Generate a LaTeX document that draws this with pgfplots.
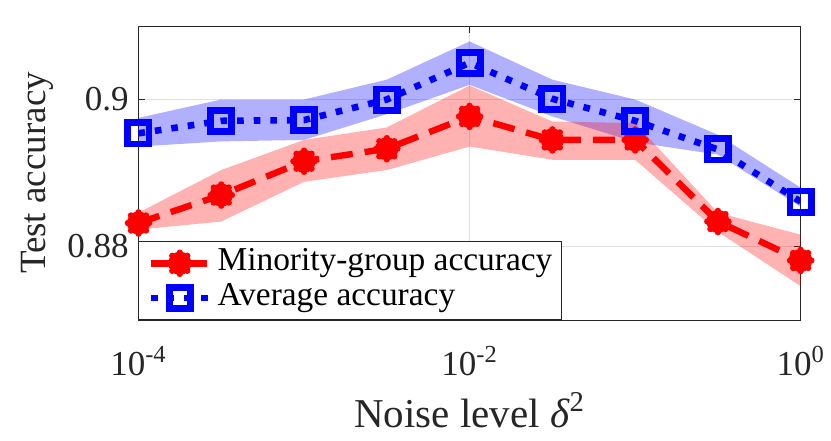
\documentclass[border=0pt]{standalone}
\usepackage{fontspec}
\setmainfont{Liberation Serif}
\usepackage{pgfplots}
\pgfplotsset{compat=1.18}

\pgfdeclareplotmark{mstar}{%
  \pgfpathcircle{\pgfpointorigin}{0.78\pgfplotmarksize}%
  \pgfpathmoveto{\pgfqpoint{-\pgfplotmarksize}{0pt}}\pgfpathlineto{\pgfqpoint{\pgfplotmarksize}{0pt}}%
  \pgfpathmoveto{\pgfqpoint{0pt}{-\pgfplotmarksize}}\pgfpathlineto{\pgfqpoint{0pt}{\pgfplotmarksize}}%
  \pgfpathmoveto{\pgfqpoint{-0.7071\pgfplotmarksize}{-0.7071\pgfplotmarksize}}\pgfpathlineto{\pgfqpoint{0.7071\pgfplotmarksize}{0.7071\pgfplotmarksize}}%
  \pgfpathmoveto{\pgfqpoint{-0.7071\pgfplotmarksize}{0.7071\pgfplotmarksize}}\pgfpathlineto{\pgfqpoint{0.7071\pgfplotmarksize}{-0.7071\pgfplotmarksize}}%
  \pgfusepathqfillstroke}

\definecolor{axgray}{HTML}{262626}

\begin{document}
\begin{tikzpicture}
\useasboundingbox (-69.25pt,-60pt) rectangle (346.25pt,160pt);
\begin{axis}[
  at={(0,0)}, anchor=south west,
  scale only axis, width=331.1pt, height=147pt,
  xmode=log, xmin=1e-4, xmax=1, ymin=0.87, ymax=0.91,
  xtick={1e-4,1e-2,1},
  xticklabels={10\textsuperscript{-4},10\textsuperscript{-2},10\textsuperscript{0}},
  ytick={0.88,0.9}, yticklabels={0.88,0.9},
  minor xtick={}, 
  grid=major,
  major grid style={draw=black!12, line width=0.5pt},
  axis line style={draw=axgray, line width=0.5pt},
  tick style={draw=axgray, line width=0.5pt},
  major tick length=3.5pt,
  tick align=inside,
  tick label style={font=\fontsize{17.5}{20}\selectfont, text=axgray},
  xticklabel style={anchor=base, yshift=-27.5pt},
  yticklabel style={xshift=-1.4pt},
  xlabel={Noise level \textit{δ}\textsuperscript{2}},
  ylabel={Test accuracy},
  xlabel style={font=\fontsize{20.5}{24}\selectfont, text=axgray, at={(axis description cs:0.5,-0.364)}, anchor=base},
  ylabel style={font=\fontsize{18.5}{22}\selectfont, text=axgray, at={(axis description cs:-0.141,0.5)}, anchor=base},
  legend cell align=left,
  legend image code/.code={\draw[mark repeat=2,mark phase=2,#1] plot coordinates {(0pt,0pt) (14.25pt,0pt) (28.5pt,0pt)};},
  legend style={at={(0,0)}, anchor=south west, draw=axgray, line width=0.5pt, fill=white,
    font=\fontsize{16.7}{18}\selectfont, inner xsep=4.5pt, inner ysep=2pt, column sep=3pt,
    nodes={inner ysep=0.5pt, inner xsep=0pt, text height=11.8pt, text depth=4.6pt}},
]
% bands
\addplot[draw=none, fill=blue, fill opacity=0.31, forget plot] coordinates {
 (1e-4,0.8975) (3.1623e-4,0.9000) (1e-3,0.9000) (3.1623e-3,0.9027) (1e-2,0.9079)
 (3.1623e-2,0.9027) (1e-1,0.9000) (3.1623e-1,0.8952) (1,0.8880)
 (1,0.8854) (3.1623e-1,0.8925) (1e-1,0.8942) (3.1623e-2,0.8977) (1e-2,0.9020)
 (3.1623e-3,0.8980) (1e-3,0.8945) (3.1623e-4,0.8943) (1e-4,0.8936)} -- cycle;
\addplot[draw=none, fill=red, fill opacity=0.30, forget plot] coordinates {
 (1e-4,0.8846) (3.1623e-4,0.8904) (1e-3,0.8945) (3.1623e-3,0.8962) (1e-2,0.9019)
 (3.1623e-2,0.8970) (1e-1,0.8968) (3.1623e-1,0.8846) (1,0.8816)
 (1,0.8746) (3.1623e-1,0.8820) (1e-1,0.8918) (3.1623e-2,0.8918) (1e-2,0.8936)
 (3.1623e-3,0.8904) (1e-3,0.8888) (3.1623e-4,0.8834) (1e-4,0.8823)} -- cycle;
% lines
\addplot[red, line width=3.2pt, dash pattern=on 11pt off 6pt,
  mark=mstar, mark size=5.3pt, mark options={solid, fill=red, line width=3.2pt, line cap=round}]
  coordinates {
 (1e-4,0.8832) (3.1623e-4,0.8870) (1e-3,0.8916) (3.1623e-3,0.8933) (1e-2,0.8977)
 (3.1623e-2,0.8945) (1e-1,0.8945) (3.1623e-1,0.8834) (1,0.8781)};
\addlegendentry{Minority-group accuracy}
\addplot[blue, line width=3.3pt, dash pattern=on 3.3pt off 5pt,
  mark=square, mark size=5.3pt, mark options={solid, line width=3.4pt}]
  coordinates {
 (1e-4,0.8954) (3.1623e-4,0.8971) (1e-3,0.8972) (3.1623e-3,0.9000) (1e-2,0.9050)
 (3.1623e-2,0.9001) (1e-1,0.8971) (3.1623e-1,0.8932) (1,0.8861)};
\addlegendentry{Average accuracy}
\end{axis}
\end{tikzpicture}
\end{document}
